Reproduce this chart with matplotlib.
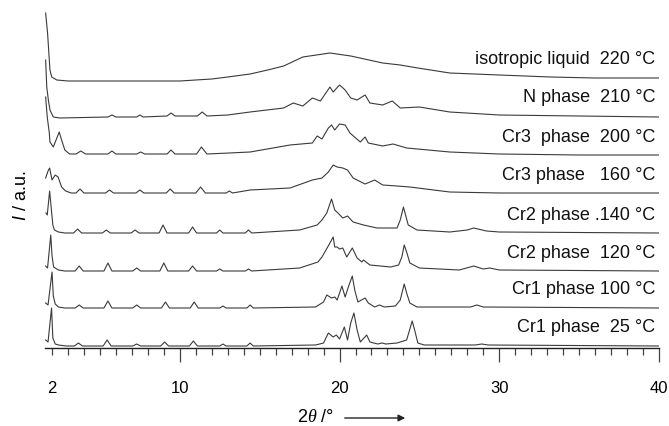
import numpy as np
import matplotlib
matplotlib.use("Agg")
import matplotlib.pyplot as plt

plt.rcParams['font.family'] = ['Liberation Sans', 'DejaVu Sans']
plt.rcParams['mathtext.fontset'] = 'custom'
plt.rcParams['mathtext.rm'] = 'Liberation Sans'
plt.rcParams['mathtext.it'] = 'Liberation Sans:italic'
plt.rcParams['mathtext.cal'] = 'Liberation Serif:italic'

# ---- data: 2theta positions and intensities (a.u., above each trace baseline) ----
iso_x = [1.6, 1.72, 1.83, 1.87, 1.98, 2.3, 3.0, 6.0, 10.0, 11.0, 12.0, 13.0, 14.4, 15.5, 16.5, 17.7, 19.4, 20.7, 22.7, 23.8, 24.9, 26.9, 30.0, 33.2, 36.0, 40.0]
iso_i = [68, 48, 21, 11, 4, 1, 0, 0, 0, 1, 2, 4, 7, 11, 15, 24, 28, 25, 18, 16, 13, 8, 6, 4, 3, 3]

n210_x = [1.6, 1.67, 1.77, 1.87, 2.08, 2.5, 5.5, 5.75, 6.0, 7.3, 7.5, 7.7, 9.2, 9.45, 9.7, 11.1, 11.4, 11.7, 13.0, 14.4, 16.5, 17.1, 17.7, 18.3, 18.8, 19.4, 19.6, 20.0, 20.35, 20.7, 21.1, 21.6, 21.9, 22.7, 23.3, 23.8, 25.0, 26.9, 30.0, 35.0, 40.0]
n210_i = [58, 31, 18, 8, 1, 0, 1, 3, 1, 1, 3, 1, 2, 5, 2, 2, 6, 2, 3, 6, 10, 15, 12, 20, 17, 31, 26, 33, 28, 20, 18, 23, 15, 13, 17, 10, 11, 6, 3, 2, 1]

cr3_200_x = [1.6, 1.7, 1.83, 1.87, 2.08, 2.45, 2.6, 2.8, 3.1, 3.5, 3.8, 4.1, 5.5, 5.75, 6.0, 7.3, 7.55, 7.8, 9.2, 9.45, 9.7, 11.05, 11.35, 11.7, 13.1, 14.4, 16.9, 18.3, 18.6, 18.9, 19.3, 19.5, 19.7, 20.0, 20.35, 20.65, 21.3, 21.6, 21.8, 22.7, 23.35, 24.2, 26.9, 30.0, 35.0, 40.0]
cr3_200_i = [58, 38, 22, 13, 8, 23, 15, 5, 1, 1, 4, 1, 1, 4, 1, 1, 3, 1, 1, 5, 1, 1, 8, 1, 2, 3, 10, 12, 19, 16, 27, 30, 25, 31, 30, 22, 13, 18, 12, 9, 11, 7, 3, 1, 0, 0]

cr3_160_x = [1.6, 1.75, 1.85, 2.0, 2.2, 2.38, 2.6, 2.85, 3.2, 3.5, 3.75, 4.0, 5.35, 5.6, 5.85, 7.25, 7.5, 7.75, 9.15, 9.4, 9.65, 11.0, 11.3, 11.6, 12.9, 13.1, 13.3, 14.4, 16.9, 18.3, 18.9, 19.3, 19.6, 19.85, 20.2, 20.5, 20.85, 21.6, 22.2, 22.7, 23.6, 24.4, 26.9, 30.0, 40.0]
cr3_160_i = [15, 22, 25, 13, 18, 16, 6, 2, 0, 0, 4, 0, 0, 3, 0, 0, 3, 0, 0, 4, 0, 0, 6, 0, 0, 2, 0, 3, 5, 13, 15, 21, 28, 26, 25, 23, 15, 9, 13, 8, 7, 6, 1, 0, 0]

cr2_140_x = [1.62, 1.7, 1.85, 1.95, 2.05, 2.15, 2.4, 2.8, 3.35, 3.6, 3.85, 5.15, 5.4, 5.65, 6.95, 7.2, 7.45, 8.7, 8.95, 9.2, 10.55, 10.8, 11.05, 12.3, 12.5, 12.7, 14.1, 14.3, 14.5, 17.5, 18.6, 18.9, 19.2, 19.5, 19.7, 19.9, 20.2, 20.5, 20.85, 21.5, 22.35, 23.6, 23.8, 24.0, 24.1, 24.3, 24.85, 26.9, 28.0, 28.4, 29.2, 30.0, 40.0]
cr2_140_i = [20, 18, 42, 25, 8, 3, 1, 0, 0, 4, 0, 0, 3, 0, 0, 3, 0, 0, 8, 0, 0, 6, 0, 0, 3, 0, 0, 3, 0, 3, 8, 13, 20, 34, 23, 20, 15, 17, 11, 8, 5, 5, 13, 26, 20, 8, 3, 1, 3, 5, 2, 1, 0]

cr2_120_x = [1.6, 1.72, 1.92, 2.0, 2.1, 2.4, 2.8, 3.45, 3.7, 3.95, 5.25, 5.5, 5.75, 7.05, 7.3, 7.55, 8.75, 9.0, 9.25, 10.55, 10.8, 11.05, 12.3, 12.5, 12.7, 14.1, 14.3, 14.5, 17.5, 18.65, 18.9, 19.15, 19.4, 19.6, 19.7, 19.85, 20.0, 20.2, 20.45, 20.8, 21.1, 21.4, 21.5, 21.9, 23.2, 23.7, 23.9, 24.05, 24.2, 24.4, 25.0, 27.5, 28.4, 29.0, 29.4, 30.0, 40.0]
cr2_120_i = [5, 3, 36, 15, 4, 1, 0, 0, 5, 0, 0, 8, 0, 0, 3, 0, 0, 8, 0, 0, 5, 0, 0, 2, 0, 0, 2, 0, 3, 9, 14, 21, 28, 34, 24, 24, 22, 23, 14, 23, 13, 9, 11, 6, 4, 6, 14, 26, 19, 8, 3, 1, 5, 2, 3, 1, 0]

cr1_100_x = [1.6, 1.75, 2.0, 2.08, 2.2, 2.4, 2.8, 3.45, 3.7, 3.95, 5.25, 5.5, 5.75, 7.05, 7.3, 7.55, 8.85, 9.1, 9.35, 10.65, 10.9, 11.15, 12.5, 12.7, 12.9, 14.2, 14.4, 14.6, 18.5, 19.0, 19.2, 19.5, 19.7, 19.85, 20.15, 20.35, 20.55, 20.8, 20.95, 21.15, 21.6, 21.8, 22.2, 22.5, 22.8, 23.5, 23.8, 24.05, 24.2, 24.4, 24.85, 28.2, 28.6, 29.0, 40.0]
cr1_100_i = [5, 3, 36, 12, 4, 1, 0, 0, 3, 0, 0, 7, 0, 0, 3, 0, 0, 6, 0, 0, 6, 0, 0, 2, 0, 0, 3, 0, 1, 6, 13, 10, 11, 8, 22, 11, 21, 32, 18, 6, 10, 5, 1, 3, 1, 2, 8, 24, 15, 5, 1, 1, 3, 1, 0]

cr1_25_x = [1.6, 1.75, 1.97, 2.05, 2.2, 2.4, 2.9, 3.4, 3.65, 3.9, 5.2, 5.45, 5.7, 7.05, 7.3, 7.55, 8.8, 9.05, 9.3, 10.6, 10.85, 11.1, 12.5, 12.7, 12.9, 14.2, 14.4, 14.6, 18.5, 19.0, 19.3, 19.6, 19.8, 20.0, 20.3, 20.5, 20.7, 20.9, 21.1, 21.3, 21.7, 21.9, 22.4, 22.65, 22.9, 23.6, 24.2, 24.55, 24.75, 24.9, 25.3, 28.5, 28.9, 29.3, 40.0]
cr1_25_i = [6, 4, 38, 8, 2, 1, 0, 0, 3, 0, 0, 6, 0, 0, 2, 0, 0, 4, 0, 0, 5, 0, 0, 2, 0, 0, 3, 0, 1, 3, 13, 9, 11, 7, 19, 6, 23, 33, 16, 4, 11, 4, 2, 3, 2, 3, 6, 25, 13, 3, 1, 1, 2, 1, 0]

labels = ["isotropic liquid  220 °C", "N phase  210 °C", "Cr3  phase  200 °C",
          "Cr3 phase   160 °C", "Cr2 phase .140 °C", "Cr2 phase  120 °C",
          "Cr1 phase 100 °C", "Cr1 phase  25 °C"]

xticks = [2, 10, 20, 30, 40]
xticklabels = ["2", "10", "20", "30", "40"]

# ---- layout / style ----
series = [(iso_x, iso_i), (n210_x, n210_i), (cr3_200_x, cr3_200_i), (cr3_160_x, cr3_160_i),
          (cr2_140_x, cr2_140_i), (cr2_120_x, cr2_120_i), (cr1_100_x, cr1_100_i), (cr1_25_x, cr1_25_i)]
offsets = [267, 230, 193, 155, 115, 77, 40, 2]
label_dy = [22, 20, 18, 18, 18, 18, 18, 18]

W, H = 669, 426
fig = plt.figure(figsize=(W / 100, H / 100), dpi=100)
ax = fig.add_axes([45 / W, 78 / H, (659 - 45) / W, (348 - 5) / H])

for (xs, ys), off in zip(series, offsets):
    ax.plot(xs, np.array(ys) + off, color='#3a3a3a', lw=0.8, solid_joinstyle='round')

for lab, off, dy in zip(labels, offsets, label_dy):
    ax.text(39.75, off + dy, lab, ha='right', va='center', fontsize=13, color='#111111')

ax.set_xlim(1.56, 40.0)
ax.set_ylim(0, 343)
for s in ['left', 'right', 'top']:
    ax.spines[s].set_visible(False)
ax.spines['bottom'].set_linewidth(1.0)
ax.spines['bottom'].set_color('#222222')
ax.set_yticks([])

ax.set_xticks(xticks)
ax.set_xticklabels(xticklabels)
ax.set_xticks(np.arange(3, 40, 1), minor=True)
ax.tick_params(axis='x', which='major', direction='out', length=10, width=0.9,
               color='#444444', labelsize=12, pad=14)
ax.tick_params(axis='x', which='minor', direction='out', length=5, width=0.9, color='#444444')
ax.xaxis.get_major_ticks()[0].tick1line.set_markersize(5)

fig.text(22 / W, 1 - 196 / H, r"$\mathit{I}$ / a.u.", rotation=90, ha='center', va='center', fontsize=13)
fig.text(297 / W, 1 - 418 / H, r"2$\mathcal{\theta}$ /°", ha='left', va='center', fontsize=13)
fig.add_artist(matplotlib.patches.FancyArrowPatch((342 / W, 1 - 418 / H), (408 / W, 1 - 418 / H),
               transform=fig.transFigure, arrowstyle='-|>', mutation_scale=10, color='#222222', lw=1.0))

fig.savefig("out.png", dpi=100)
